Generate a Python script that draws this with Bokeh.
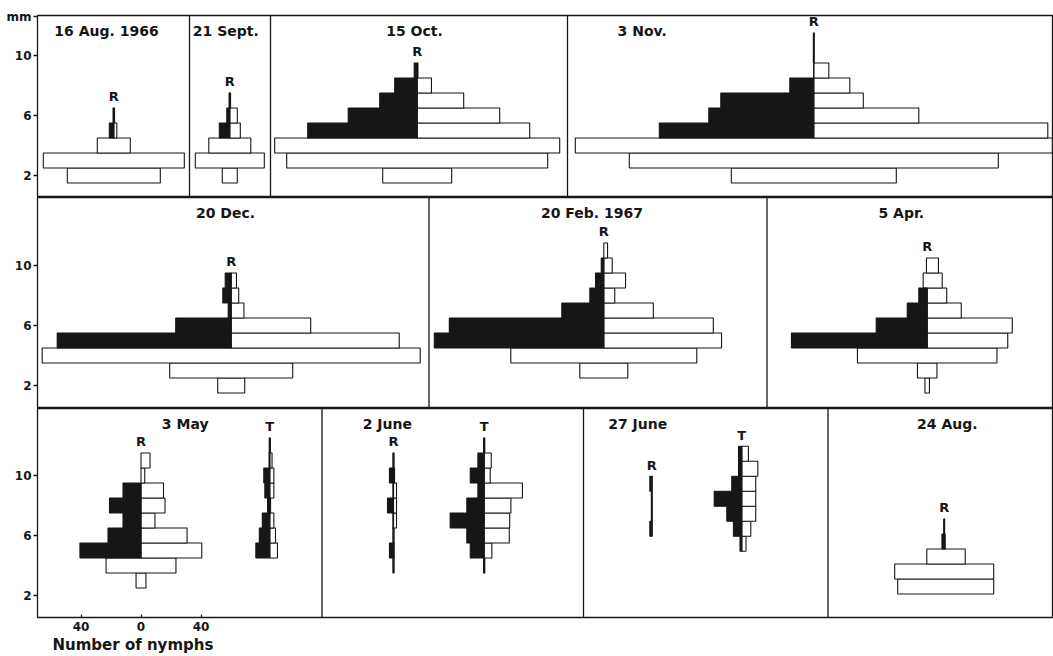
import numpy as np
from bokeh.plotting import figure
from bokeh.layouts import column
from bokeh.models import FixedTicker, Span, Range1d, Title
from bokeh.embed import file_html
from bokeh.resources import INLINE
from bokeh.core.properties import value

# ------------------------------------------------------------------
# DATA  (size class in mm, left-half count, right-half count,
#        dark = 1 when the left half is drawn black)
# ------------------------------------------------------------------
AUG66_SIZE = [2, 3, 4, 5, 6]
AUG66_LEFT = [31, 47, 11, 3, 0.5]
AUG66_RIGHT = [31, 47, 11, 2, 0.5]
AUG66_DARK = [0, 0, 0, 1, 1]

SEP66_SIZE = [2, 3, 4, 5, 6, 7]
SEP66_LEFT = [5, 23, 14, 7, 2, 0.5]
SEP66_RIGHT = [5, 23, 14, 7, 5, 0.5]
SEP66_DARK = [0, 0, 0, 1, 1, 1]

OCT66_SIZE = [2, 3, 4, 5, 6, 7, 8, 9]
OCT66_LEFT = [23, 87, 95, 73, 46, 25, 15, 2]
OCT66_RIGHT = [23, 87, 95, 75, 55, 31, 9.5, 0.5]
OCT66_DARK = [0, 0, 0, 1, 1, 1, 1, 1]

NOV66_SIZE = [2, 3, 4, 5, 6, 7, 8, 9, 10, 11]
NOV66_LEFT = [55, 123, 159, 103, 70, 62, 16, 0, 0.3, 0.3]
NOV66_RIGHT = [55, 123, 159, 156, 70, 33, 24, 10, 0.3, 0.3]
NOV66_DARK = [0, 0, 0, 1, 1, 1, 1, 1, 1, 1]

DEC66_SIZE = [2, 3, 4, 5, 6, 7, 8, 9]
DEC66_LEFT = [9, 41, 126, 116, 37, 2, 5.6, 4]
DEC66_RIGHT = [9, 41, 126, 112, 53, 8.5, 5, 3.5]
DEC66_DARK = [0, 0, 0, 1, 1, 1, 1, 1]

FEB67_SIZE = [3, 4, 5, 6, 7, 8, 9, 10, 11]
FEB67_LEFT = [16, 62, 113, 103, 28, 9.3, 5.5, 1.7, 0]
FEB67_RIGHT = [16, 62, 78.5, 73, 33, 7.3, 14.5, 5.6, 2.5]
FEB67_DARK = [0, 0, 1, 1, 1, 1, 1, 1, 0]

APR67_SIZE = [2, 3, 4, 5, 6, 7, 8, 9, 10]
APR67_LEFT = [1.5, 6.5, 46.5, 90.5, 34, 13.3, 5.6, 2.7, 0.5]
APR67_RIGHT = [1.5, 6.5, 46.5, 53.7, 56.7, 22.7, 13, 10, 7.5]
APR67_DARK = [0, 0, 0, 1, 1, 1, 1, 0, 0]

MAY67R_SIZE = [3, 4, 5, 6, 7, 8, 9, 10, 11]
MAY67R_LEFT = [3.3, 23.3, 40.7, 22, 12, 21, 12, 0, 0]
MAY67R_RIGHT = [3.3, 23.3, 40.5, 30.7, 9.3, 16, 15, 2.5, 6]
MAY67R_DARK = [0, 0, 1, 1, 1, 1, 1, 0, 0]

MAY67T_SIZE = [5, 6, 7, 8, 9, 10, 11, 12]
MAY67T_LEFT = [9.3, 7, 5, 1.5, 3.3, 4, 0.5, 0.4]
MAY67T_RIGHT = [5.1, 3.8, 2.7, 0.5, 2.7, 2.7, 1.5, 0.4]
MAY67T_DARK = [1, 1, 1, 1, 1, 1, 1, 1]

JUN67R_SIZE = [4, 5, 6, 7, 8, 9, 10, 11]
JUN67R_LEFT = [0.4, 2.7, 0.4, 0.4, 4, 0.4, 2.7, 0.4]
JUN67R_RIGHT = [0.4, 0.5, 0.4, 2, 2, 2, 0.7, 0.4]
JUN67R_DARK = [1, 1, 1, 1, 1, 1, 1, 1]

JUN67T_SIZE = [4, 5, 6, 7, 8, 9, 10, 11, 12]
JUN67T_LEFT = [0.4, 9.3, 11.6, 22.7, 11.6, 4.2, 9.3, 4.2, 0.4]
JUN67T_RIGHT = [0.4, 5.1, 16.7, 17, 17.8, 25.5, 4, 4.7, 0.4]
JUN67T_DARK = [1, 1, 1, 1, 1, 1, 1, 1, 1]

JUN27R_SIZE = [6.45, 7.45, 8.45, 9.45]
JUN27R_LEFT = [1.3, 0.3, 0.3, 1.3]
JUN27R_RIGHT = [0.3, 0.3, 0.3, 0.3]
JUN27R_DARK = [1, 1, 1, 1]

JUN27T_SIZE = [5.45, 6.45, 7.45, 8.45, 9.45, 10.45, 11.45]
JUN27T_LEFT = [1.2, 5.6, 10, 18.4, 6.7, 2.2, 2.2]
JUN27T_RIGHT = [2.8, 6, 9.3, 9.3, 9.3, 10.7, 4.4]
JUN27T_DARK = [1, 1, 1, 1, 1, 1, 1]

AUG67_SIZE = [2.6, 3.6, 4.6, 5.6, 6.6]
AUG67_LEFT = [31, 33, 11.6, 1.5, 0.3]
AUG67_RIGHT = [33, 33, 14, 0.7, 0.3]
AUG67_DARK = [0, 0, 0, 1, 1]

PANEL_TITLES = ["16 Aug. 1966", "21 Sept.", "15 Oct.", "3 Nov.",
                "20 Dec.", "20 Feb. 1967", "5 Apr.",
                "3 May", "2 June", "27 June", "24 Aug."]
Y_TICKS = [2, 6, 10]
X_TICKS = [-40, 0, 40]
X_TICK_LABELS = ["40", "0", "40"]
Y_UNIT = "mm"
X_TITLE = "Number of nymphs"

# ------------------------------------------------------------------
# LAYOUT (pixel geometry of the plate)
# ------------------------------------------------------------------
PX_PER_NYMPH = 1.5
PX_PER_MM = 15.0
ORIGIN_PX = 140.5
CANVAS_W, CANVAS_H = 1053, 656
FRAME_LEFT = 37
UNIT_POS = 12.6          # where the "mm" unit sits on the first axis
ROWS = [dict(top=15, bottom=197, y10=55),
        dict(top=197, bottom=408, y10=265),
        dict(top=408, bottom=617, y10=475)]
SEPARATORS = [[189, 270, 567], [428.5, 766.5], [321.5, 583, 827.5]]
TITLE_POS = [(0, 106), (0, 225.3), (0, 414), (0, 641.7),
             (1, 225), (1, 591.5), (1, 900.8),
             (2, 184.7), (2, 386.8), (2, 637.2), (2, 946.8)]

SERIES = [
    (0, 113.3, "R", AUG66_SIZE, AUG66_LEFT, AUG66_RIGHT, AUG66_DARK),
    (0, 229.3, "R", SEP66_SIZE, SEP66_LEFT, SEP66_RIGHT, SEP66_DARK),
    (0, 416.7, "R", OCT66_SIZE, OCT66_LEFT, OCT66_RIGHT, OCT66_DARK),
    (0, 813.3, "R", NOV66_SIZE, NOV66_LEFT, NOV66_RIGHT, NOV66_DARK),
    (1, 230.7, "R", DEC66_SIZE, DEC66_LEFT, DEC66_RIGHT, DEC66_DARK),
    (1, 603.3, "R", FEB67_SIZE, FEB67_LEFT, FEB67_RIGHT, FEB67_DARK),
    (1, 926.7, "R", APR67_SIZE, APR67_LEFT, APR67_RIGHT, APR67_DARK),
    (2, 140.5, "R", MAY67R_SIZE, MAY67R_LEFT, MAY67R_RIGHT, MAY67R_DARK),
    (2, 269.3, "T", MAY67T_SIZE, MAY67T_LEFT, MAY67T_RIGHT, MAY67T_DARK),
    (2, 393.0, "R", JUN67R_SIZE, JUN67R_LEFT, JUN67R_RIGHT, JUN67R_DARK),
    (2, 483.7, "T", JUN67T_SIZE, JUN67T_LEFT, JUN67T_RIGHT, JUN67T_DARK),
    (2, 651.3, "R", JUN27R_SIZE, JUN27R_LEFT, JUN27R_RIGHT, JUN27R_DARK),
    (2, 741.3, "T", JUN27T_SIZE, JUN27T_LEFT, JUN27T_RIGHT, JUN27T_DARK),
    (2, 943.7, "R", AUG67_SIZE, AUG67_LEFT, AUG67_RIGHT, AUG67_DARK),
]

FONT = "DejaVu Sans"
INK = "#161616"


def xd(px):
    return (px - ORIGIN_PX) / PX_PER_NYMPH


def yd(row, py):
    return 10 - (py - ROWS[row]["y10"]) / PX_PER_MM


figs = []
for r, g in enumerate(ROWS):
    top_border = g["top"] if r == 0 else 0
    bottom_border = CANVAS_H - g["bottom"] if r == 2 else 0
    p = figure(frame_width=CANVAS_W - FRAME_LEFT,
               frame_height=g["bottom"] - g["top"],
               x_range=Range1d(xd(FRAME_LEFT), xd(CANVAS_W)),
               y_range=Range1d(yd(r, g["bottom"]), yd(r, g["top"])),
               x_axis_location="below" if r == 2 else None,
               output_backend="svg", toolbar_location=None,
               min_border_left=FRAME_LEFT, min_border_right=0,
               min_border_top=top_border, min_border_bottom=bottom_border,
               background_fill_color="white", border_fill_color="white")
    p.grid.visible = False
    p.outline_line_color = INK
    p.outline_line_width = 1.3
    ya = p.yaxis[0]
    if r == 0:
        ya.ticker = FixedTicker(ticks=Y_TICKS + [UNIT_POS])
        ya.major_label_overrides = {UNIT_POS: Y_UNIT}
    else:
        ya.ticker = FixedTicker(ticks=Y_TICKS)
    ya.major_tick_out = 4
    ya.major_tick_in = 0
    ya.minor_tick_out = 0
    ya.minor_tick_in = 0
    ya.axis_line_color = INK
    ya.major_tick_line_color = INK
    ya.major_tick_line_width = 1.3
    ya.major_label_standoff = 2
    ya.major_label_text_font = FONT
    ya.major_label_text_font_style = "bold"
    ya.major_label_text_font_size = "12px"
    ya.major_label_text_color = INK
    if r == 2:
        xa = p.xaxis[0]
        xa.ticker = FixedTicker(ticks=X_TICKS)
        xa.major_label_overrides = {t: lab for t, lab in zip(X_TICKS, X_TICK_LABELS)}
        xa.major_tick_out = 0
        xa.major_tick_in = 3
        xa.major_tick_line_color = INK
        xa.major_tick_line_width = 1.2
        xa.minor_tick_out = 0
        xa.minor_tick_in = 0
        xa.axis_line_color = None
        xa.major_label_standoff = 4
        xa.major_label_text_font = FONT
        xa.major_label_text_font_style = "bold"
        xa.major_label_text_font_size = "12px"
        xa.major_label_text_color = INK
    for sx in SEPARATORS[r]:
        p.add_layout(Span(location=xd(sx), dimension="height",
                          line_color=INK, line_width=1.3))
    figs.append(p)

# panel titles
for (row, px), title in zip(TITLE_POS, PANEL_TITLES):
    p = figs[row]
    p.text(x=[xd(px)], y=[p.y_range.end - 1.0], text=[title],
           text_align="center", text_baseline="middle",
           text_font=value(FONT), text_font_style="bold",
           text_font_size="14px", text_color=INK)

# kite diagrams
for row, cpx, letter, S, L, R, D in SERIES:
    p = figs[row]
    c = xd(cpx)
    S = np.asarray(S, float)
    L = np.asarray(L, float)
    R = np.asarray(R, float)
    dark = np.asarray(D) == 1
    wl = np.where(dark, c, c - L)
    wr = c + R
    p.quad(left=wl, right=wr, bottom=S - 0.5, top=S + 0.5,
           fill_color="white", line_color=INK, line_width=1.1)
    if dark.any():
        p.quad(left=(c - L)[dark], right=np.full(dark.sum(), c),
               bottom=(S - 0.5)[dark], top=(S + 0.5)[dark],
               fill_color=INK, line_color=INK, line_width=1.1)
    p.text(x=[c], y=[S.max() + 0.5 + 0.75], text=[letter],
           text_align="center", text_baseline="middle",
           text_font=value(FONT), text_font_style="bold",
           text_font_size="13px", text_color=INK)

# x title, below the tick labels, starting under the first panel
figs[2].add_layout(Title(text=X_TITLE, align="left", offset=52 - FRAME_LEFT,
                         standoff=1, text_font=FONT, text_font_style="bold",
                         text_font_size="15px", text_color=INK), "below")

layout = column(*figs, spacing=0)
open("out.html", "w").write(file_html(layout, INLINE))
